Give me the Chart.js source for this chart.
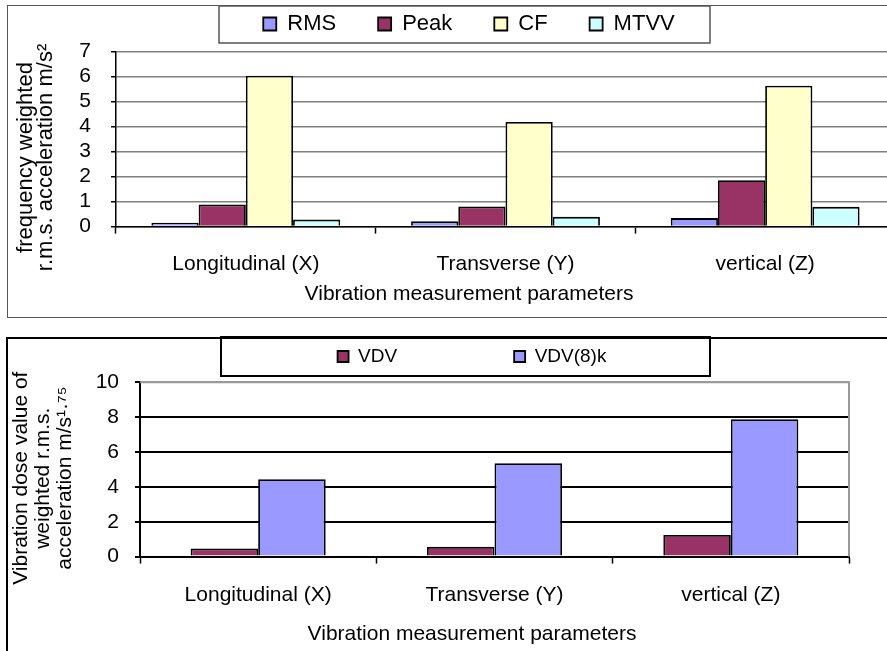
<!DOCTYPE html>
<html>
<head>
<meta charset="utf-8">
<script src="https://cdn.jsdelivr.net/npm/chart.js@4.4.1/dist/chart.umd.min.js"></script>
<style>
    html, body { margin: 0; padding: 0; background: #fff; }
    body { width: 887px; height: 651px; overflow: hidden; position: relative; }
    canvas { position: absolute; }
    #topChart { left: 8px; top: -29px; }
    #bottomChart { left: 8px; top: 230px; }
    .frame { position: absolute; box-sizing: border-box; pointer-events: none; z-index: 2; }
    #topFrame { left: 7px; top: 5px; width: 1000px; height: 313px; border: 1px solid #555; }
    #bottomFrame { left: 6px; top: 337px; width: 1000px; height: 400px; border: 2px solid #000; }
</style>
</head>
<body>
<canvas id="topChart" width="922" height="346"></canvas>
<canvas id="bottomChart" width="928" height="417"></canvas>
<div class="frame" id="topFrame"></div>
<div class="frame" id="bottomFrame"></div>
<script>
// данные
const categories = ['Longitudinal (X)', 'Transverse (Y)', 'vertical (Z)'];
const rmsValues = [0.15, 0.21, 0.34];
const peakValues = [0.88, 0.80, 1.86];
const cfValues = [6.04, 4.19, 5.64];
const mtvvValues = [0.28, 0.39, 0.79];
const vdvValues = [0.46, 0.56, 1.24];
const vdv8kValues = [4.44, 5.36, 7.88];
const topTicks = [0, 1, 2, 3, 4, 5, 6, 7];
const bottomTicks = [0, 2, 4, 6, 8, 10];

Chart.defaults.font.family = "'Liberation Sans', Arial, sans-serif";
Chart.defaults.color = '#000';

// рамка вокруг легенды + фиксированная высота легенды
const legendFrame = {
    id: 'legendFrame',
    beforeInit(chart, args, opts) {
        const fit = chart.legend.fit;
        chart.legend.fit = function () {
            fit.call(this);
            this.height = opts.height;
        };
    },
    afterDraw(chart, args, opts) {
        const boxes = chart.legend.legendHitBoxes;
        const first = boxes[0];
        const last = boxes[boxes.length - 1];
        const cx = (first.left + last.left + last.width) / 2 + opts.dx;
        const cy = first.top + first.height / 2 + opts.dy;
        const ctx = chart.ctx;
        ctx.save();
        ctx.strokeStyle = opts.color;
        ctx.lineWidth = opts.lineWidth;
        ctx.strokeRect(cx - opts.halfWidth, cy - opts.halfHeight, opts.halfWidth * 2, opts.halfHeight * 2);
        ctx.restore();
    }
};

// серая рамка области графика (верх и право)
const plotFrame = {
    id: 'plotFrame',
    beforeDatasetsDraw(chart, args, opts) {
        if (!opts.color) return;
        const a = chart.chartArea;
        const ctx = chart.ctx;
        ctx.save();
        ctx.strokeStyle = opts.color;
        ctx.lineWidth = opts.lineWidth;
        ctx.beginPath();
        ctx.moveTo(a.left, a.top);
        ctx.lineTo(a.right, a.top);
        ctx.lineTo(a.right, a.bottom);
        ctx.stroke();
        ctx.restore();
    }
};

new Chart(document.getElementById('topChart'), {
    type: 'bar',
    data: {
        labels: categories,
        datasets: [
            { label: 'RMS', data: rmsValues, backgroundColor: '#9999FF' },
            { label: 'Peak', data: peakValues, backgroundColor: '#993366' },
            { label: 'CF', data: cfValues, backgroundColor: '#FFFFCC' },
            { label: 'MTVV', data: mtvvValues, backgroundColor: '#CCFFFF' }
        ]
    },
    options: {
        responsive: false,
        animation: false,
        layout: { padding: 0 },
        datasets: {
            bar: { categoryPercentage: 4 / 5.5, barPercentage: 1, borderColor: '#000', borderWidth: 1.8 }
        },
        scales: {
            x: {
                afterFit: s => { s.height = 50.2; },
                grid: { offset: true, drawOnChartArea: false, tickLength: 7, tickColor: '#000', tickWidth: 1.5 },
                border: { color: '#000', width: 1.5 },
                ticks: { font: { size: 21 }, padding: 18, maxRotation: 0 }
            },
            y: {
                min: 0,
                max: 7,
                afterBuildTicks: s => { s.ticks = topTicks.map(v => ({ value: v })); },
                afterFit: s => { s.width = 108; },
                grid: { color: '#808080', lineWidth: 1.5, tickLength: 5, tickColor: '#000' },
                border: { color: '#000', width: 1.5 },
                ticks: { font: { size: 21 }, padding: 20, autoSkip: false },
                title: {
                    display: true,
                    text: ['frequency weighted      ', 'r.m.s. acceleration m/s\u00b2      '],
                    font: { size: 22, lineHeight: 0.92 },
                    padding: { top: 8, bottom: 0 }
                }
            },
            yR: {
                type: 'linear',
                position: 'right',
                grid: { display: false },
                border: { display: false },
                ticks: { display: false },
                afterFit: s => { s.width = 35; }
            }
        },
        plugins: {
            legend: {
                labels: { boxWidth: 13, boxHeight: 13, padding: 42, font: { size: 22 }, color: '#000' }
            },
            title: {
                display: true,
                position: 'bottom',
                text: 'Vibration measurement parameters',
                font: { size: 21, weight: 'normal' },
                color: '#000',
                padding: { top: 5, bottom: 10 }
            },
            tooltip: { enabled: false },
            legendFrame: { height: 80.7, dx: -4.5, dy: 0.5, halfWidth: 245.5, halfHeight: 18.5, color: '#555', lineWidth: 1.5 },
            plotFrame: { color: null }
        }
    },
    plugins: [legendFrame, plotFrame]
});

new Chart(document.getElementById('bottomChart'), {
    type: 'bar',
    data: {
        labels: categories,
        datasets: [
            { label: 'VDV', data: vdvValues, backgroundColor: '#993366' },
            { label: 'VDV(8)k', data: vdv8kValues, backgroundColor: '#9999FF' }
        ]
    },
    options: {
        responsive: false,
        animation: false,
        layout: { padding: 0 },
        datasets: {
            bar: { categoryPercentage: 2 / 3.5, barPercentage: 1, borderColor: '#000', borderWidth: 1.8 }
        },
        scales: {
            x: {
                afterFit: s => { s.height = 51.2; },
                grid: { offset: true, drawOnChartArea: false, tickLength: 7, tickColor: '#000', tickWidth: 1.5 },
                border: { color: '#000', width: 2 },
                ticks: { font: { size: 21 }, padding: 19, maxRotation: 0 }
            },
            y: {
                min: 0,
                max: 10,
                afterBuildTicks: s => { s.ticks = bottomTicks.map(v => ({ value: v })); },
                afterFit: s => { s.width = 132; },
                grid: {
                    color: c => (c.tick && c.tick.value === 10 ? '#999' : '#000'),
                    lineWidth: 2,
                    tickLength: 5,
                    tickColor: '#000'
                },
                border: { color: '#000', width: 2 },
                ticks: { font: { size: 21 }, padding: 16, autoSkip: false },
                title: {
                    display: true,
                    text: ['Vibration dose value of   ', 'weighted r.m.s.   ', 'acceleration m/s\u00b9\u00b7\u2077\u2075   '],
                    font: { size: 21, lineHeight: 1.05 },
                    padding: { top: 2, bottom: 0 }
                }
            },
            yR: {
                type: 'linear',
                position: 'right',
                grid: { display: false },
                border: { display: false },
                ticks: { display: false },
                afterFit: s => { s.width = 87; }
            }
        },
        plugins: {
            legend: {
                labels: { boxWidth: 11, boxHeight: 11, padding: 117, font: { size: 19 }, color: '#000' }
            },
            title: {
                display: true,
                position: 'bottom',
                text: 'Vibration measurement parameters',
                font: { size: 21, weight: 'normal' },
                color: '#000',
                padding: { top: 14, bottom: 0 }
            },
            tooltip: { enabled: false },
            legendFrame: { height: 152.3, dx: -6.5, dy: 0, halfWidth: 244.5, halfHeight: 19.5, color: '#000', lineWidth: 2 },
            plotFrame: { color: '#999', lineWidth: 2 }
        }
    },
    plugins: [legendFrame, plotFrame]
});
</script>
</body>
</html>
